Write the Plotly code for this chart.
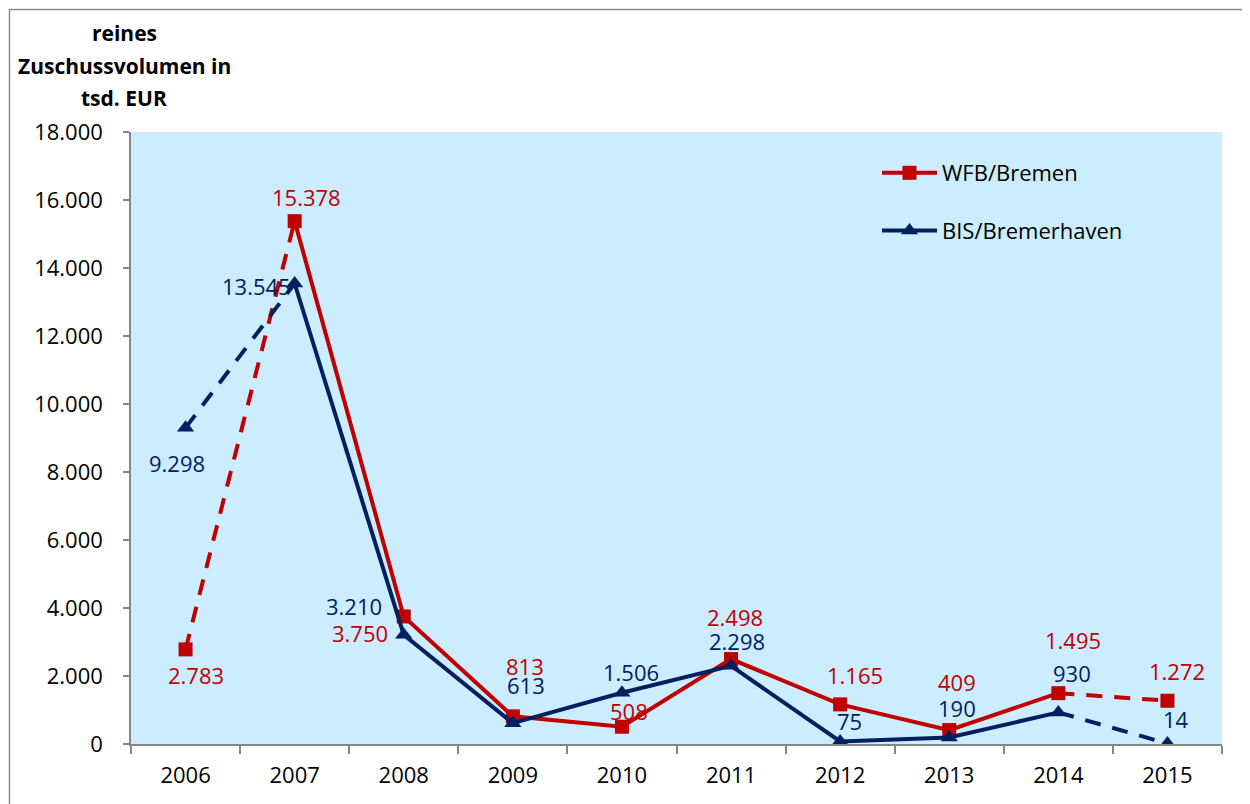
import plotly.graph_objects as go

years = ["2006", "2007", "2008", "2009", "2010", "2011", "2012", "2013", "2014", "2015"]
wfb_bremen = [2783, 15378, 3750, 813, 508, 2498, 1165, 409, 1495, 1272]
bis_bremerhaven = [9298, 13545, 3210, 613, 1506, 2298, 75, 190, 930, 14]
y_ticks = [0, 2000, 4000, 6000, 8000, 10000, 12000, 14000, 16000, 18000]
title_lines = ["reines", "Zuschussvolumen in", "tsd. EUR"]

# label offsets (pixels, x right / y up) – styling only
wfb_offsets = [(10, -26), (12, 24), (-44, -16), (12, 50), (7, 16), (4, 42), (15, 29), (8, 48), (15, 53), (10, 30)]
bis_offsets = [(-9, -35), (-38, -3), (-50, 29), (13, 38), (9, 21), (6, 25), (9, 20), (8, 30), (14, 39), (9, 25)]

RED = "#C00000"
NAVY = "#002060"
FONT = "Open Sans"
FS = 22

def fmt(v):
    return f"{v:,}".replace(",", ".")

fig = go.Figure()

def add_series(name, vals, color, symbol, size, group):
    fig.add_trace(go.Scatter(x=years[0:2], y=vals[0:2], mode="lines",
                             line=dict(color=color, width=4, dash="16px,12px"),
                             showlegend=False, hoverinfo="skip", legendgroup=group))
    fig.add_trace(go.Scatter(x=years[8:10], y=vals[8:10], mode="lines",
                             line=dict(color=color, width=4, dash="16px,12px"),
                             showlegend=False, hoverinfo="skip", legendgroup=group))
    fig.add_trace(go.Scatter(x=years[1:9], y=vals[1:9], mode="lines+markers", name=name,
                             line=dict(color=color, width=4),
                             marker=dict(color=color, symbol=symbol, size=size),
                             legendgroup=group))
    fig.add_trace(go.Scatter(x=[years[0], years[9]], y=[vals[0], vals[9]], mode="markers",
                             marker=dict(color=color, symbol=symbol, size=size),
                             showlegend=False, legendgroup=group))

add_series("WFB/Bremen", wfb_bremen, RED, "square", 14, "a")
add_series("BIS/Bremerhaven", bis_bremerhaven, NAVY, "triangle-up", 15, "b")

annotations = []
for vals, offs, color in ((wfb_bremen, wfb_offsets, RED), (bis_bremerhaven, bis_offsets, NAVY)):
    for i, (v, (dx, dy)) in enumerate(zip(vals, offs)):
        annotations.append(dict(x=i, y=v, xref="x", yref="y", text=fmt(v), showarrow=False,
                                xshift=dx, yshift=dy, font=dict(family=FONT, size=FS, color=color)))

title_px = [33, 66, 98]
for line, py in zip(title_lines, title_px):
    annotations.append(dict(x=(124 - 131) / 1091, y=(744 - py) / 612, xref="paper", yref="paper",
                            text=f"<b>{line}</b>", showarrow=False, xanchor="center", yanchor="middle",
                            font=dict(family=FONT, size=21, color="black")))

# page is offset by the 8px body margin
fig.update_layout(
    width=1250, height=804,
    margin=dict(l=123, r=36, t=124, b=68),
    paper_bgcolor="white", plot_bgcolor="#CCECFF",
    separators=",.",
    font=dict(family=FONT, size=FS, color="black"),
    showlegend=True,
    legend=dict(x=(877 - 131) / 1091, y=(744 - 152) / 612, xanchor="left", yanchor="top",
                bgcolor="rgba(0,0,0,0)", font=dict(family=FONT, size=FS, color="black"),
                traceorder="grouped", tracegroupgap=26, itemwidth=55),
    annotations=annotations,
    shapes=[dict(type="rect", xref="paper", yref="paper",
                 x0=(9.5 - 131) / 1091, x1=(1270 - 131) / 1091,
                 y0=(744 - 830) / 612, y1=(744 - 9.5) / 612,
                 line=dict(color="#8C8C8C", width=1.5), layer="below")],
)

fig.update_xaxes(type="category", categoryorder="array", categoryarray=years,
                 range=[-0.5, 9.5], tickson="boundaries", ticks="outside", ticklen=8,
                 tickcolor="#868686", tickwidth=1.5, showline=True, linecolor="#868686", linewidth=1.5,
                 showgrid=False, zeroline=False, ticklabelstandoff=11, tickangle=0, automargin=False,
                 tickfont=dict(family=FONT, size=FS, color="black"))
fig.update_yaxes(range=[0, 18000], tickvals=y_ticks, tickformat=",", ticks="outside", ticklen=6,
                 tickcolor="#868686", tickwidth=1.5, showline=True, linecolor="#868686", linewidth=1.5,
                 showgrid=False, zeroline=False, ticklabelstandoff=16, automargin=False,
                 tickfont=dict(family=FONT, size=FS, color="black"))

fig.write_html("out.html")
